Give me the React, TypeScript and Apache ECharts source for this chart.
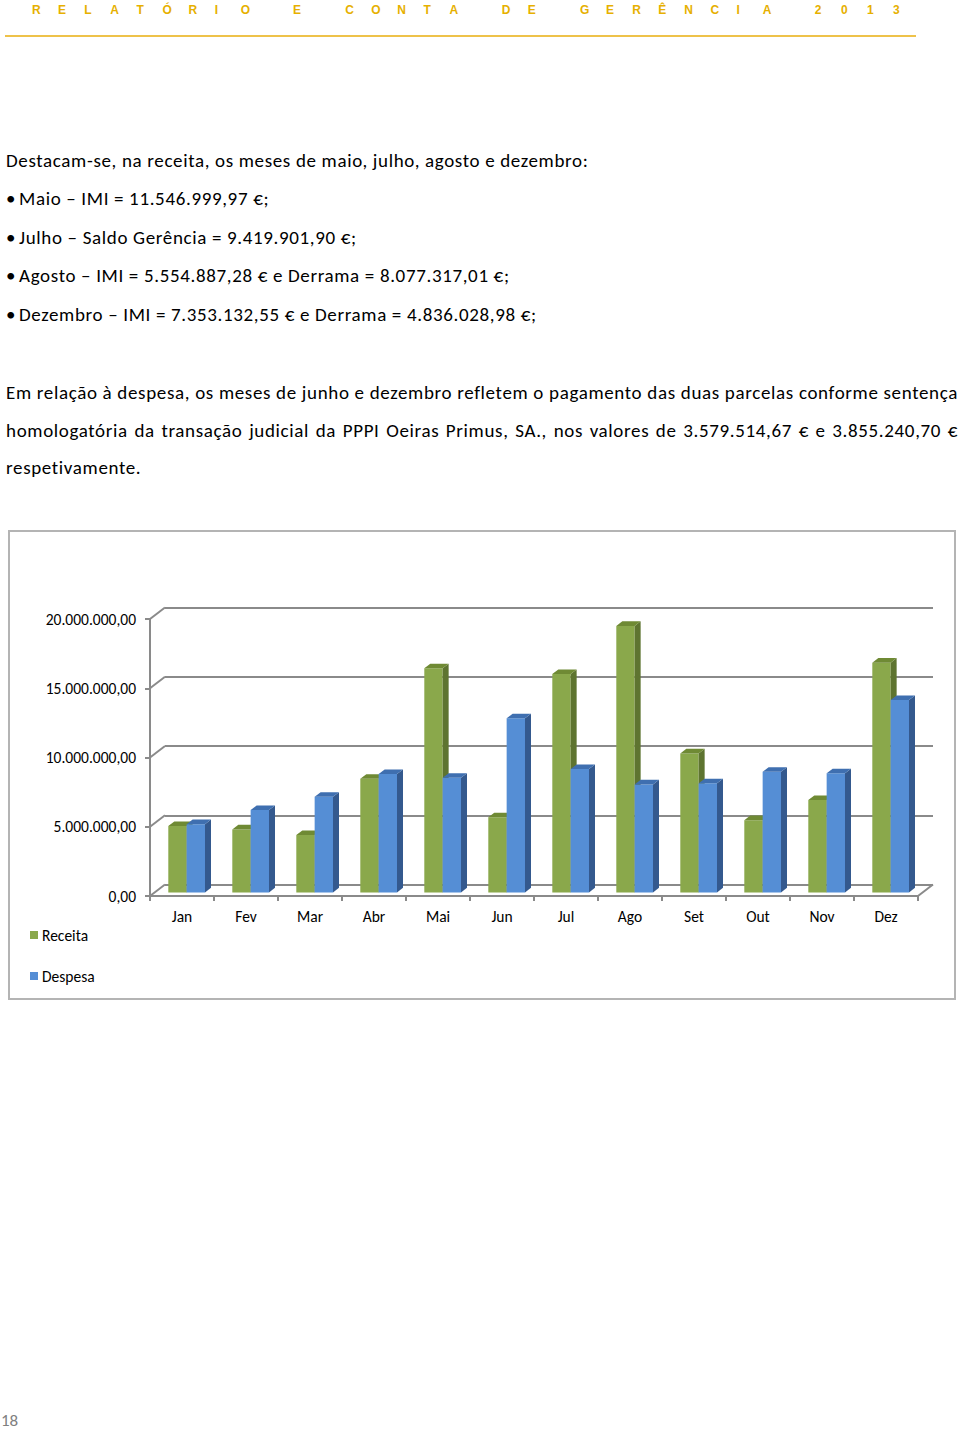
import React, { useEffect, useRef } from "react";
import * as echarts from "echarts";

const months = ["Jan", "Fev", "Mar", "Abr", "Mai", "Jun", "Jul", "Ago", "Set", "Out", "Nov", "Dez"];
const receita = [4790000, 4550000, 4140000, 8210000, 16180000, 5420000, 15770000, 19240000, 10040000, 5220000, 6670000, 16590000];
const despesa = [4930000, 5950000, 6910000, 8550000, 8280000, 12570000, 8910000, 7800000, 7880000, 8710000, 8600000, 13890000];
const yTicks = [0, 5000000, 10000000, 15000000, 20000000];
const seriesNames = ["Receita", "Despesa"];

const headerText = "RELATÓRIO E CONTA DE GERÊNCIA 2013";
const introLine = "Destacam-se, na receita, os meses de maio, julho, agosto e dezembro:";
const bullets = [
  "Maio – IMI = 11.546.999,97 €;",
  "Julho – Saldo Gerência = 9.419.901,90 €;",
  "Agosto – IMI = 5.554.887,28 € e Derrama = 8.077.317,01 €;",
  "Dezembro – IMI = 7.353.132,55 € e Derrama = 4.836.028,98 €;",
];
const para2 = [
  "Em relação à despesa, os meses de junho e dezembro refletem o pagamento das duas parcelas conforme sentença",
  "homologatória da transação judicial da PPPI Oeiras Primus, SA., nos valores de 3.579.514,67 € e 3.855.240,70 €",
  "respetivamente.",
];

const GREEN = { front: "#8AA84B", side: "#5E7430", top: "#6F8A34" };
const BLUE = { front: "#558ED5", side: "#34598E", top: "#3F6FB0" };
const GRID_COLOR = "#8A8A8A";
const DEPTH_X = 15;
const DEPTH_Y = -11.5;
const BAR_SHIFT = 0.31;
const BAR_DEPTH = 0.4;

function fmt(v: number) {
  const s = v.toFixed(2);
  const [i, d] = s.split(".");
  return i.replace(/\B(?=(\d{3})+(?!\d))/g, ".") + "," + d;
}

const BODY_FONT = "Carlito, Lato, 'Open Sans', sans-serif";
const CHART_FONT_SIZE = 15.5;

function makeBarRender(colors: { front: string; side: string; top: string }, which: number) {
  return (params: any, api: any) => {
    const idx = api.value(0);
    const v = api.value(1);
    const top = api.coord([idx, v]);
    const base = api.coord([idx, 0]);
    const bw = api.size([1, 0])[0];
    const w = bw * 0.2867;
    const sx = DEPTH_X * BAR_SHIFT;
    const sy = DEPTH_Y * BAR_SHIFT;
    const dx = DEPTH_X * BAR_DEPTH;
    const dy = DEPTH_Y * BAR_DEPTH;
    const left = which === 0 ? top[0] + sx - w : top[0] + sx;
    const yTop = top[1] + sy;
    const yBot = base[1] + sy;
    return {
      type: "group",
      children: [
        {
          type: "rect",
          shape: { x: left, y: yTop, width: w, height: yBot - yTop },
          style: { fill: colors.front },
        },
        {
          type: "polygon",
          shape: {
            points: [
              [left + w, yTop],
              [left + w + dx, yTop + dy],
              [left + w + dx, yBot + dy],
              [left + w, yBot],
            ],
          },
          style: { fill: colors.side },
        },
        {
          type: "polygon",
          shape: {
            points: [
              [left, yTop],
              [left + w, yTop],
              [left + w + dx, yTop + dy],
              [left + dx, yTop + dy],
            ],
          },
          style: { fill: colors.top },
        },
      ],
    };
  };
}

export default function App() {
  const ref = useRef<HTMLDivElement>(null);
  useEffect(() => {
    if (!ref.current) return;
    const chart = echarts.init(ref.current, null, { renderer: "svg" });
    const diagData = yTicks.map((v) => [0, v, 0]).concat([[months.length - 1, 0, 1]]);
    const option: any = {
      animation: false,
      textStyle: { fontFamily: BODY_FONT },
      graphic: [
        {
          type: "rect",
          shape: { x: 9, y: 11, width: 946, height: 468 },
          style: { fill: "none", stroke: "#B4B4B4", lineWidth: 2 },
          silent: true,
        },
      ],
      legend: {
        orient: "vertical",
        left: 25,
        top: 402,
        itemWidth: 8,
        itemHeight: 8,
        itemGap: 25,
        icon: "rect",
        textStyle: { fontSize: CHART_FONT_SIZE, color: "#000", fontFamily: BODY_FONT, padding: [0, 0, 0, -1] },
        data: [
          { name: seriesNames[0], itemStyle: { color: GREEN.front } },
          { name: seriesNames[1], itemStyle: { color: BLUE.front } },
        ],
      },
      grid: [
        { left: 150, top: 99, width: 768, height: 277 },
        { left: 150 + DEPTH_X, top: 99 + DEPTH_Y, width: 768, height: 277 },
      ],
      xAxis: [
        {
          type: "category",
          gridIndex: 0,
          data: months,
          axisLine: { show: true, lineStyle: { color: GRID_COLOR, width: 2 } },
          axisTick: { show: true, length: 5, lineStyle: { color: GRID_COLOR, width: 2 } },
          axisLabel: { color: "#000", fontSize: CHART_FONT_SIZE, margin: 12, fontFamily: BODY_FONT },
          splitLine: { show: false },
        },
        {
          type: "category",
          gridIndex: 1,
          data: months,
          show: false,
        },
      ],
      yAxis: [
        {
          type: "value",
          gridIndex: 0,
          min: 0,
          max: 20000000,
          interval: 5000000,
          axisLine: { show: true, lineStyle: { color: GRID_COLOR, width: 2 } },
          axisTick: { show: true, length: 5, lineStyle: { color: GRID_COLOR, width: 2 } },
          axisLabel: {
            color: "#000",
            fontSize: CHART_FONT_SIZE,
            margin: 14,
            fontFamily: BODY_FONT,
            formatter: (v: number) => fmt(v),
          },
          splitLine: { show: false },
        },
        {
          type: "value",
          gridIndex: 1,
          min: 0,
          max: 20000000,
          interval: 5000000,
          axisLine: { show: false },
          axisTick: { show: false },
          axisLabel: { show: false },
          splitLine: { show: true, lineStyle: { color: GRID_COLOR, width: 2 } },
        },
      ],
      series: [
        {
          type: "custom",
          name: "diag",
          xAxisIndex: 0,
          yAxisIndex: 0,
          clip: false,
          silent: true,
          data: diagData,
          encode: { x: 0, y: 1 },
          renderItem: (params: any, api: any) => {
            const idx = api.value(0);
            const v = api.value(1);
            const right = api.value(2) === 1;
            const p = api.coord([idx, v]);
            const bw = api.size([1, 0])[0];
            const x0 = right ? p[0] + bw / 2 : p[0] - bw / 2;
            return {
              type: "line",
              shape: { x1: x0, y1: p[1], x2: x0 + DEPTH_X, y2: p[1] + DEPTH_Y },
              style: { stroke: GRID_COLOR, lineWidth: 2 },
            };
          },
        },
        {
          type: "custom",
          name: seriesNames[0],
          xAxisIndex: 0,
          yAxisIndex: 0,
          clip: false,
          itemStyle: { color: GREEN.front },
          data: receita.map((v, i) => [i, v]),
          encode: { x: 0, y: 1 },
          renderItem: makeBarRender(GREEN, 0),
        },
        {
          type: "custom",
          name: seriesNames[1],
          xAxisIndex: 0,
          yAxisIndex: 0,
          clip: false,
          itemStyle: { color: BLUE.front },
          data: despesa.map((v, i) => [i, v]),
          encode: { x: 0, y: 1 },
          renderItem: makeBarRender(BLUE, 1),
        },
      ],
    };
    chart.setOption(option);
    return () => chart.dispose();
  }, []);

  const lineStyle = (centerY: number): React.CSSProperties => ({
    position: "absolute",
    left: 6,
    top: centerY - 12,
    height: 24,
    lineHeight: "24px",
    fontSize: 19,
    letterSpacing: "0.65px",
    fontFamily: BODY_FONT,
    color: "#000",
    whiteSpace: "nowrap",
  });

  return (
    <div style={{ position: "absolute", left: 0, top: 0, width: 960, height: 1431, overflow: "hidden", background: "#fff" }}>
      <div style={{ position: "absolute", left: 32, top: 2, height: 14, lineHeight: "14px", whiteSpace: "nowrap" }}>
        {headerText.split("").map((ch, i) => (
          <span
            key={i}
            style={{
              display: "inline-block",
              width: 26.1,
              fontSize: 12,
              fontWeight: "bold",
              fontFamily: "'Liberation Sans Narrow', 'Liberation Sans', Arial, sans-serif",
              color: "#E6B000",
            }}
          >
            {ch === " " ? "\u00a0" : ch}
          </span>
        ))}
      </div>
      <div style={{ position: "absolute", left: 5, top: 35, width: 911, height: 0, borderTop: "2px solid #EEC24A" }} />

      <div style={lineStyle(161)}>{introLine}</div>
      {bullets.map((b, i) => (
        <div key={i} style={lineStyle(199 + i * 38.7)}>
          <span style={{ display: "inline-block", width: 13 }}>•</span>
          {b}
        </div>
      ))}

      {para2.map((t, i) => (
        <div
          key={i}
          style={{
            ...lineStyle(393 + i * 37.5),
            width: 952,
            textAlign: i < 2 ? "justify" : "left",
            textAlignLast: i < 2 ? "justify" : "left",
            whiteSpace: "normal",
          }}
        >
          {t}
        </div>
      ))}

      <div ref={ref} style={{ position: "absolute", left: 0, top: 520, width: 960, height: 490 }} />

      <div
        style={{
          position: "absolute",
          left: 1,
          top: 1411,
          fontSize: 17,
          lineHeight: "20px",
          fontFamily: BODY_FONT,
          color: "#808080",
        }}
      >
        18
      </div>
    </div>
  );
}
